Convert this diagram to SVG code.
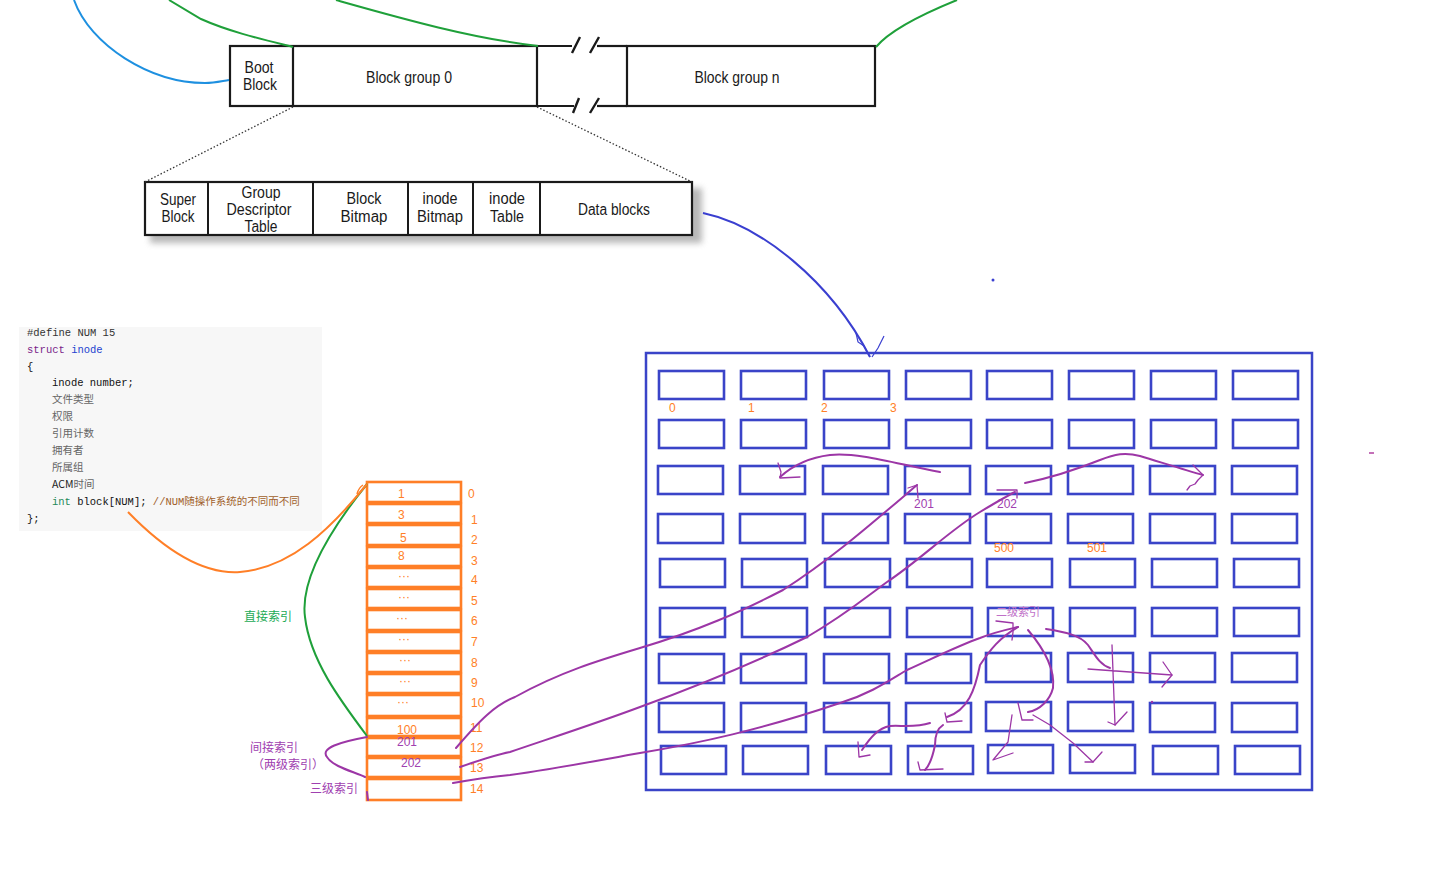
<svg xmlns="http://www.w3.org/2000/svg" width="1435" height="883" viewBox="0 0 1435 883">
<style>
.blk{fill:#fff;stroke:#1a1a1a;stroke-width:2.2}
.lbl{font-family:"Liberation Sans Narrow","Liberation Sans",sans-serif;font-size:16px;fill:#1a1a1a;text-anchor:middle}
.dot{stroke:#333;stroke-width:1.3;stroke-dasharray:1.5 2;fill:none}
.cell{fill:#fff;stroke:#3a44c8;stroke-width:2.6}
.acell{fill:#fff;stroke:#ff7f27;stroke-width:2.6}
.org{font-family:"Liberation Sans","Noto Sans CJK SC",sans-serif;font-size:12px;fill:#ff7f27}
.pur{font-family:"Liberation Sans","Noto Sans CJK SC",sans-serif;font-size:12px;fill:#a040b0}
.code{font-family:"Liberation Mono",monospace;font-size:10.5px;fill:#111}
.cn{font-family:"Noto Sans CJK SC",sans-serif;font-size:10.5px;fill:#666}
.pl{fill:none;stroke:#9c36a6;stroke-width:2;stroke-linecap:round;stroke-linejoin:round}
.pt{fill:none;stroke:#9c36a6;stroke-width:1.3;stroke-linecap:round;stroke-linejoin:round}
</style>
<defs>
<filter id="sh" x="-5%" y="-20%" width="115%" height="160%"><feGaussianBlur stdDeviation="3"/></filter>
</defs>
<rect width="1435" height="883" fill="#fff"/>

<g id="disk">
<rect x="230" y="46" width="307" height="60" class="blk"/>
<line x1="293" y1="46" x2="293" y2="106" stroke="#1a1a1a" stroke-width="2.2"/>
<rect x="627" y="46" width="248" height="60" class="blk"/>
<line x1="537" y1="46" x2="572" y2="46" stroke="#1a1a1a" stroke-width="2.2"/>
<line x1="597" y1="46" x2="627" y2="46" stroke="#1a1a1a" stroke-width="2.2"/>
<line x1="537" y1="106" x2="574" y2="106" stroke="#1a1a1a" stroke-width="2.2"/>
<line x1="597" y1="106" x2="627" y2="106" stroke="#1a1a1a" stroke-width="2.2"/>
<path d="M572,53 L580,37 M590,53 L599,37 M573,113 L579,98 M590,113 L599,98" stroke="#1a1a1a" stroke-width="2.4" fill="none"/>
<text class="lbl" x="259" y="73" textLength="29" lengthAdjust="spacingAndGlyphs">Boot</text>
<text class="lbl" x="260" y="90" textLength="34" lengthAdjust="spacingAndGlyphs">Block</text>
<text class="lbl" x="409" y="83" textLength="86" lengthAdjust="spacingAndGlyphs">Block group 0</text>
<text class="lbl" x="737" y="83" textLength="85" lengthAdjust="spacingAndGlyphs">Block group n</text>
</g>

<g id="group-detail">
<rect x="150" y="188" width="552" height="55" fill="#888" opacity="0.6" filter="url(#sh)"/>
<rect x="145" y="182" width="547" height="53" class="blk"/>
<path d="M208,182V235M313,182V235M408,182V235M473,182V235M540,182V235" stroke="#1a1a1a" stroke-width="2"/>
<text class="lbl" x="178" y="205" textLength="36" lengthAdjust="spacingAndGlyphs">Super</text>
<text class="lbl" x="178" y="222" textLength="33" lengthAdjust="spacingAndGlyphs">Block</text>
<text class="lbl" x="261" y="198" textLength="39" lengthAdjust="spacingAndGlyphs">Group</text>
<text class="lbl" x="259" y="215" textLength="65" lengthAdjust="spacingAndGlyphs">Descriptor</text>
<text class="lbl" x="261" y="232" textLength="33" lengthAdjust="spacingAndGlyphs">Table</text>
<text class="lbl" x="364" y="204" textLength="35" lengthAdjust="spacingAndGlyphs">Block</text>
<text class="lbl" x="364" y="222" textLength="47" lengthAdjust="spacingAndGlyphs">Bitmap</text>
<text class="lbl" x="440" y="204" textLength="35" lengthAdjust="spacingAndGlyphs">inode</text>
<text class="lbl" x="440" y="222" textLength="46" lengthAdjust="spacingAndGlyphs">Bitmap</text>
<text class="lbl" x="507" y="204" textLength="36" lengthAdjust="spacingAndGlyphs">inode</text>
<text class="lbl" x="507" y="222" textLength="34" lengthAdjust="spacingAndGlyphs">Table</text>
<text class="lbl" x="614" y="215" textLength="72" lengthAdjust="spacingAndGlyphs">Data blocks</text>
</g>

<g id="code">
<rect x="19" y="327" width="303" height="204" fill="#f7f7f7"/>
<text class="code" x="27" y="336" style="fill:#333">#define NUM 15</text>
<text class="code" x="27" y="353"><tspan fill="#7a1f8a">struct</tspan> <tspan fill="#2343d0">inode</tspan></text>
<text class="code" x="27" y="370">{</text>
<text class="code" x="52" y="386">inode number;</text>
<text class="cn" x="52" y="403">文件类型</text>
<text class="cn" x="52" y="420">权限</text>
<text class="cn" x="52" y="437">引用计数</text>
<text class="cn" x="52" y="454">拥有者</text>
<text class="cn" x="52" y="471">所属组</text>
<text class="cn" x="52" y="488"><tspan fill="#222">ACM</tspan>时间</text>
<text class="code" x="52" y="505"><tspan fill="#1e8a5a">int</tspan> block[NUM]; <tspan fill="#a0602a">//NUM</tspan><tspan class="cn" style="fill:#a0602a">随操作系统的不同而不同</tspan></text>
<text class="code" x="27" y="522">};</text>
</g>

<g id="block-array">
<rect class="acell" x="367" y="482" width="94" height="20"/>
<rect class="acell" x="367" y="504" width="94" height="19"/>
<rect class="acell" x="367" y="525" width="94" height="20"/>
<rect class="acell" x="367" y="547" width="94" height="19"/>
<rect class="acell" x="367" y="568" width="94" height="19"/>
<rect class="acell" x="367" y="589" width="94" height="19"/>
<rect class="acell" x="367" y="610" width="94" height="20"/>
<rect class="acell" x="367" y="632" width="94" height="19"/>
<rect class="acell" x="367" y="653" width="94" height="19"/>
<rect class="acell" x="367" y="674" width="94" height="19"/>
<rect class="acell" x="367" y="695" width="94" height="21"/>
<rect class="acell" x="367" y="718" width="94" height="18"/>
<rect class="acell" x="367" y="738" width="94" height="18"/>
<rect class="acell" x="367" y="758" width="94" height="19"/>
<rect class="acell" x="367" y="779" width="94" height="21"/>
<text class="org" x="398" y="498">1</text>
<text class="org" x="398" y="519">3</text>
<text class="org" x="400" y="542">5</text>
<text class="org" x="398" y="560">8</text>
<text class="org" x="398" y="580">···</text>
<text class="org" x="398" y="601">···</text>
<text class="org" x="396" y="622">···</text>
<text class="org" x="398" y="643">···</text>
<text class="org" x="399" y="664">···</text>
<text class="org" x="399" y="685">···</text>
<text class="org" x="397" y="706">···</text>
<text class="org" x="397" y="734">100</text>
<text class="pur" x="397" y="746">201</text>
<text class="pur" x="401" y="767">202</text>
<text class="org" x="468" y="498">0</text>
<text class="org" x="471" y="524">1</text>
<text class="org" x="471" y="544">2</text>
<text class="org" x="471" y="565">3</text>
<text class="org" x="471" y="584">4</text>
<text class="org" x="471" y="605">5</text>
<text class="org" x="471" y="625">6</text>
<text class="org" x="471" y="646">7</text>
<text class="org" x="471" y="667">8</text>
<text class="org" x="471" y="687">9</text>
<text class="org" x="471" y="707">10</text>
<text class="org" x="470" y="732">11</text>
<text class="org" x="470" y="752">12</text>
<text class="org" x="470" y="772">13</text>
<text class="org" x="470" y="793">14</text>
</g>

<g id="labels">
<text x="244" y="621" font-family="Noto Sans CJK SC,sans-serif" font-size="12" fill="#22aa55">直接索引</text>
<text x="250" y="752" font-family="Noto Sans CJK SC,sans-serif" font-size="12" fill="#a040b0">间接索引</text>
<text x="252" y="769" font-family="Noto Sans CJK SC,sans-serif" font-size="12" fill="#a040b0">（两级索引）</text>
<text x="310" y="793" font-family="Noto Sans CJK SC,sans-serif" font-size="12" fill="#a040b0">三级索引</text>
</g>

<g id="data-blocks">
<rect x="646" y="353" width="666" height="437" fill="none" stroke="#3a44c8" stroke-width="2.5"/>
<g id="row0"><rect class="cell" x="659" y="371" width="65" height="28"/><rect class="cell" x="741" y="371" width="65" height="28"/><rect class="cell" x="824" y="371" width="65" height="28"/><rect class="cell" x="906" y="371" width="65" height="28"/><rect class="cell" x="987" y="371" width="65" height="28"/><rect class="cell" x="1069" y="371" width="65" height="28"/><rect class="cell" x="1151" y="371" width="65" height="28"/><rect class="cell" x="1233" y="371" width="65" height="28"/></g>
<g id="row1"><rect class="cell" x="659" y="420" width="65" height="28"/><rect class="cell" x="741" y="420" width="65" height="28"/><rect class="cell" x="824" y="420" width="65" height="28"/><rect class="cell" x="906" y="420" width="65" height="28"/><rect class="cell" x="987" y="420" width="65" height="28"/><rect class="cell" x="1069" y="420" width="65" height="28"/><rect class="cell" x="1151" y="420" width="65" height="28"/><rect class="cell" x="1233" y="420" width="65" height="28"/></g>
<g id="row2"><rect class="cell" x="658" y="466" width="65" height="28"/><rect class="cell" x="740" y="466" width="65" height="28"/><rect class="cell" x="823" y="466" width="65" height="28"/><rect class="cell" x="905" y="466" width="65" height="28"/><rect class="cell" x="986" y="466" width="65" height="28"/><rect class="cell" x="1068" y="466" width="65" height="28"/><rect class="cell" x="1150" y="466" width="65" height="28"/><rect class="cell" x="1232" y="466" width="65" height="28"/></g>
<g id="row3"><rect class="cell" x="658" y="514" width="65" height="29"/><rect class="cell" x="740" y="514" width="65" height="29"/><rect class="cell" x="823" y="514" width="65" height="29"/><rect class="cell" x="905" y="514" width="65" height="29"/><rect class="cell" x="986" y="514" width="65" height="29"/><rect class="cell" x="1068" y="514" width="65" height="29"/><rect class="cell" x="1150" y="514" width="65" height="29"/><rect class="cell" x="1232" y="514" width="65" height="29"/></g>
<g id="row4"><rect class="cell" x="660" y="559" width="65" height="28"/><rect class="cell" x="742" y="559" width="65" height="28"/><rect class="cell" x="825" y="559" width="65" height="28"/><rect class="cell" x="907" y="559" width="65" height="28"/><rect class="cell" x="987" y="559" width="65" height="28"/><rect class="cell" x="1070" y="559" width="65" height="28"/><rect class="cell" x="1152" y="559" width="65" height="28"/><rect class="cell" x="1234" y="559" width="65" height="28"/></g>
<g id="row5"><rect class="cell" x="660" y="608" width="65" height="29"/><rect class="cell" x="742" y="608" width="65" height="29"/><rect class="cell" x="825" y="608" width="65" height="29"/><rect class="cell" x="907" y="608" width="65" height="29"/><rect class="cell" x="988" y="608" width="65" height="28"/><rect class="cell" x="1070" y="608" width="65" height="28"/><rect class="cell" x="1152" y="608" width="65" height="28"/><rect class="cell" x="1234" y="608" width="65" height="28"/></g>
<g id="row6"><rect class="cell" x="659" y="654" width="65" height="29"/><rect class="cell" x="741" y="654" width="65" height="29"/><rect class="cell" x="824" y="654" width="65" height="29"/><rect class="cell" x="906" y="654" width="65" height="29"/><rect class="cell" x="986" y="653" width="65" height="29"/><rect class="cell" x="1068" y="653" width="65" height="29"/><rect class="cell" x="1150" y="653" width="65" height="29"/><rect class="cell" x="1232" y="653" width="65" height="29"/></g>
<g id="row7"><rect class="cell" x="659" y="703" width="65" height="29"/><rect class="cell" x="741" y="703" width="65" height="29"/><rect class="cell" x="824" y="703" width="65" height="29"/><rect class="cell" x="906" y="703" width="65" height="29"/><rect class="cell" x="986" y="702" width="65" height="29"/><rect class="cell" x="1068" y="702" width="65" height="29"/><rect class="cell" x="1150" y="703" width="65" height="29"/><rect class="cell" x="1232" y="703" width="65" height="29"/></g>
<g id="row8"><rect class="cell" x="661" y="746" width="65" height="28"/><rect class="cell" x="743" y="746" width="65" height="28"/><rect class="cell" x="826" y="746" width="65" height="28"/><rect class="cell" x="908" y="746" width="65" height="28"/><rect class="cell" x="988" y="745" width="65" height="28"/><rect class="cell" x="1070" y="745" width="65" height="28"/><rect class="cell" x="1153" y="746" width="65" height="28"/><rect class="cell" x="1235" y="746" width="65" height="28"/></g>
<text class="org" x="669" y="412">0</text>
<text class="org" x="748" y="412">1</text>
<text class="org" x="821" y="412">2</text>
<text class="org" x="890" y="412">3</text>
<text class="org" x="994" y="552">500</text>
<text class="org" x="1087" y="552">501</text>
<text class="pur" x="914" y="508">201</text>
<text class="pur" x="997" y="508">202</text>
<text x="996" y="616" font-family="Noto Sans CJK SC,sans-serif" font-size="11" fill="#c070c8">二级索引</text>
</g>

<g id="connectors">
<path d="M74,0 C90,45 150,83 205,83 C215,83 222,81 229,80" fill="none" stroke="#1e90e0" stroke-width="2"/>
<path d="M169,0 L201,19 C230,32 265,40 293,47" fill="none" stroke="#1fa03a" stroke-width="2"/>
<path d="M336,0 C400,18 470,38 538,46" fill="none" stroke="#1fa03a" stroke-width="2"/>
<path d="M876,47 C890,30 920,15 957,0" fill="none" stroke="#1fa03a" stroke-width="2"/>
<path d="M293,107 L145,182" class="dot"/>
<path d="M537,107 L692,182" class="dot"/>
<path d="M703,213 C760,225 830,280 870,357" fill="none" stroke="#3a3fd0" stroke-width="2"/>
<path d="M856,333 L858,342 L864,346 L870,357 M884,336 L878,348 L872,357" fill="none" stroke="#3a3fd0" stroke-width="1.2"/>
<circle cx="993" cy="280" r="1.5" fill="#3a3fd0"/>
<path d="M1369,453 L1374,453" stroke="#b040a0" stroke-width="1.5"/>
<path d="M367,484 C330,530 300,580 305,617 C310,660 340,700 367,736" fill="none" stroke="#1fa03a" stroke-width="2"/>
<path d="M128,512 C160,545 200,575 240,572 C290,568 330,530 367,484" fill="none" stroke="#ff7f27" stroke-width="2"/>
<path d="M357,494 C358,490 360,487 363,485" fill="none" stroke="#ff7f27" stroke-width="1.5"/>
<path class="pl" d="M367,737 C340,742 320,748 327,757 C333,767 355,772 365,777"/>
<path class="pl" d="M367,792 L368,800"/>
<path class="pl" d="M456,748 C480,720 495,705 515,697 C560,672 600,660 640,648 C700,630 740,612 783,590 C830,560 870,525 917,485"/>
<path class="pt" d="M908,488 L917,485 L918,498"/>
<path class="pl" d="M460,767 C480,760 495,755 510,752 C560,735 600,722 640,707 C700,685 760,660 807,637 C845,615 865,598 887,582 C920,560 950,530 980,512 C995,503 1005,497 1015,492"/>
<path class="pt" d="M997,490 L1017,490 L1017,498"/>
<path class="pl" d="M453,783 C470,780 490,777 510,775 C560,768 600,760 640,753 C700,743 760,730 840,703 C870,694 890,680 907,670 C940,655 960,645 980,638 C995,632 1005,630 1018,627"/>
<path class="pt" d="M996,621 L1013,623 L1013,632 L1012,640"/>
<path class="pl" d="M940,472 C900,465 860,452 830,455 C805,458 790,468 780,477"/>
<path class="pt" d="M778,463 L781,472 L780,478 L800,477"/>
<path class="pl" d="M1025,483 C1050,478 1075,470 1100,460 C1115,454 1125,452 1140,456 C1160,462 1185,470 1203,475"/>
<path class="pt" d="M1193,465 L1198,470 L1203,475 L1198,480 L1195,484 L1190,486 L1187,490"/>
<path class="pl" d="M1018,627 C1000,637 990,650 980,665 C975,690 968,710 947,717"/>
<path class="pt" d="M945,713 L947,722 L962,721"/>
<path class="pl" d="M930,723 C915,728 900,725 890,726 C878,728 870,738 862,750"/>
<path class="pt" d="M858,742 L859,757 L870,755"/>
<path class="pl" d="M943,725 C935,730 935,740 935,745 C933,755 930,765 925,770"/>
<path class="pt" d="M918,762 L920,770 L943,769"/>
<path class="pl" d="M1028,630 C1045,650 1055,670 1053,688 C1050,700 1040,710 1028,712"/>
<path class="pt" d="M1018,703 L1022,720 L1033,720"/>
<path class="pt" d="M1033,715 L1050,725 L1073,743 L1093,762"/>
<path class="pt" d="M1085,762 L1093,762 L1102,752"/>
<path class="pt" d="M1012,715 L1008,742 L993,760 L1013,753"/>
<path class="pl" d="M1046,629 C1065,632 1080,635 1088,645 C1095,655 1100,665 1110,668"/>
<path class="pt" d="M1088,669 L1172,675 M1112,645 L1115,725"/>
<path class="pt" d="M1163,662 L1172,675 L1162,687 M1108,722 L1115,725 L1127,712"/>
<circle cx="1152" cy="702" r="1.2" fill="#9c36a6"/>
</g>
</svg>
